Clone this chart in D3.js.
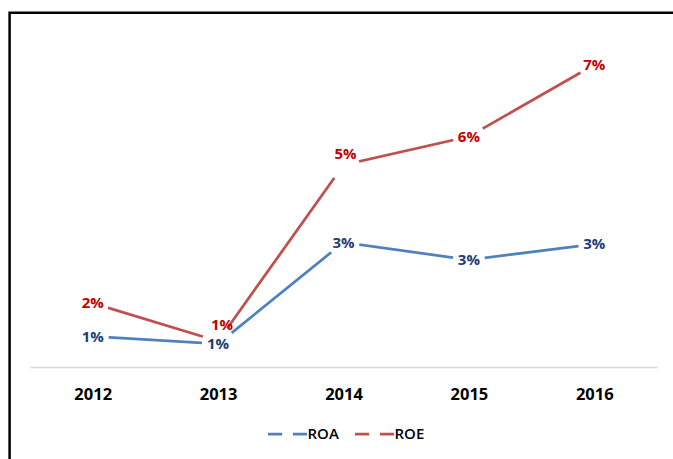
<!DOCTYPE html>
<html>
<head>
<meta charset="utf-8">
<script src="https://cdn.jsdelivr.net/npm/d3@7"></script>
<style>
  body { margin: 0; background: #fff; }
  svg { display: block; font-family: "Open Sans", sans-serif; }
</style>
</head>
<body>
<svg id="chart" width="673" height="459"></svg>
<script>
const years = ["2012", "2013", "2014", "2015", "2016"];
const seriesNames = ["ROA", "ROE"];
const roa = [0.0120, 0.0103, 0.0335, 0.0295, 0.0331];
const roe = [0.0196, 0.0109, 0.0512, 0.0577, 0.0741];

const colors = { ROA: "#4F81BD", ROE: "#C0504D" };
const labelColors = { ROA: "#1F3C78", ROE: "#C00000" };
// labels that were dragged off their point in the original
const nudge = { "ROE-2013": [4, -16], "ROE-2014": [2, -11] };

const svg = d3.select("#chart");

// frame (only top and left edges are visible)
svg.append("path")
  .attr("d", "M9.6,459V12.7H673")
  .attr("fill", "none")
  .attr("stroke", "#000")
  .attr("stroke-width", 2.5);

const x = d3.scalePoint()
  .domain(years)
  .range([30, 657])
  .padding(0.5);

const y = d3.scaleLinear()
  .domain([0.005, 0.08])
  .range([367, 39]);

// category axis
const xAxis = svg.append("g")
  .attr("transform", "translate(0,367)")
  .call(d3.axisBottom(x).tickSize(0).tickPadding(0));
xAxis.select(".domain").attr("stroke", "#D9D9D9").attr("stroke-width", 1.3);
xAxis.selectAll(".tick text")
  .attr("y", 33)
  .attr("dy", 0)
  .attr("font-family", "Open Sans")
  .attr("font-size", 16.5)
  .attr("font-weight", 700)
  .attr("fill", "#000");

const series = [
  { name: "ROA", values: roa },
  { name: "ROE", values: roe }
];

const line = d3.line()
  .x((d, i) => x(years[i]))
  .y(d => y(d));

series.forEach(s => {
  svg.append("path")
    .datum(s.values)
    .attr("fill", "none")
    .attr("stroke", colors[s.name])
    .attr("stroke-width", 2.75)
    .attr("d", line);
});

// white markers knock the lines out around each point
series.forEach(s => {
  svg.append("g")
    .selectAll("circle")
    .data(s.values)
    .join("circle")
    .attr("cx", (d, i) => x(years[i]))
    .attr("cy", d => y(d))
    .attr("r", 16)
    .attr("fill", "#fff");
});

const fmt = d3.format(".0%");
series.forEach(s => {
  svg.append("g")
    .selectAll("text")
    .data(s.values)
    .join("text")
    .attr("x", (d, i) => x(years[i]) + (nudge[s.name + "-" + years[i]] || [0, 0])[0])
    .attr("y", (d, i) => y(d) + (nudge[s.name + "-" + years[i]] || [0, 0])[1])
    .attr("dy", "0.35em")
    .attr("text-anchor", "middle")
    .attr("font-size", 15)
    .attr("font-weight", 700)
    .attr("fill", labelColors[s.name])
    .text(d => fmt(d));
});

// legend
const legend = svg.append("g").attr("transform", "translate(268,434)");
const legendStep = 87;
seriesNames.forEach((name, i) => {
  const g = legend.append("g").attr("transform", `translate(${i * legendStep},0)`);
  g.append("line")
    .attr("x1", 0).attr("x2", 39)
    .attr("stroke", colors[name])
    .attr("stroke-width", 2.75);
  g.append("circle")
    .attr("cx", 19.5)
    .attr("r", 5.5)
    .attr("fill", "#fff");
  g.append("text")
    .attr("x", 39.5)
    .attr("dy", "0.36em")
    .attr("font-size", 15)
    .attr("font-weight", 600)
    .attr("fill", "#000")
    .text(name);
});
</script>
</body>
</html>
